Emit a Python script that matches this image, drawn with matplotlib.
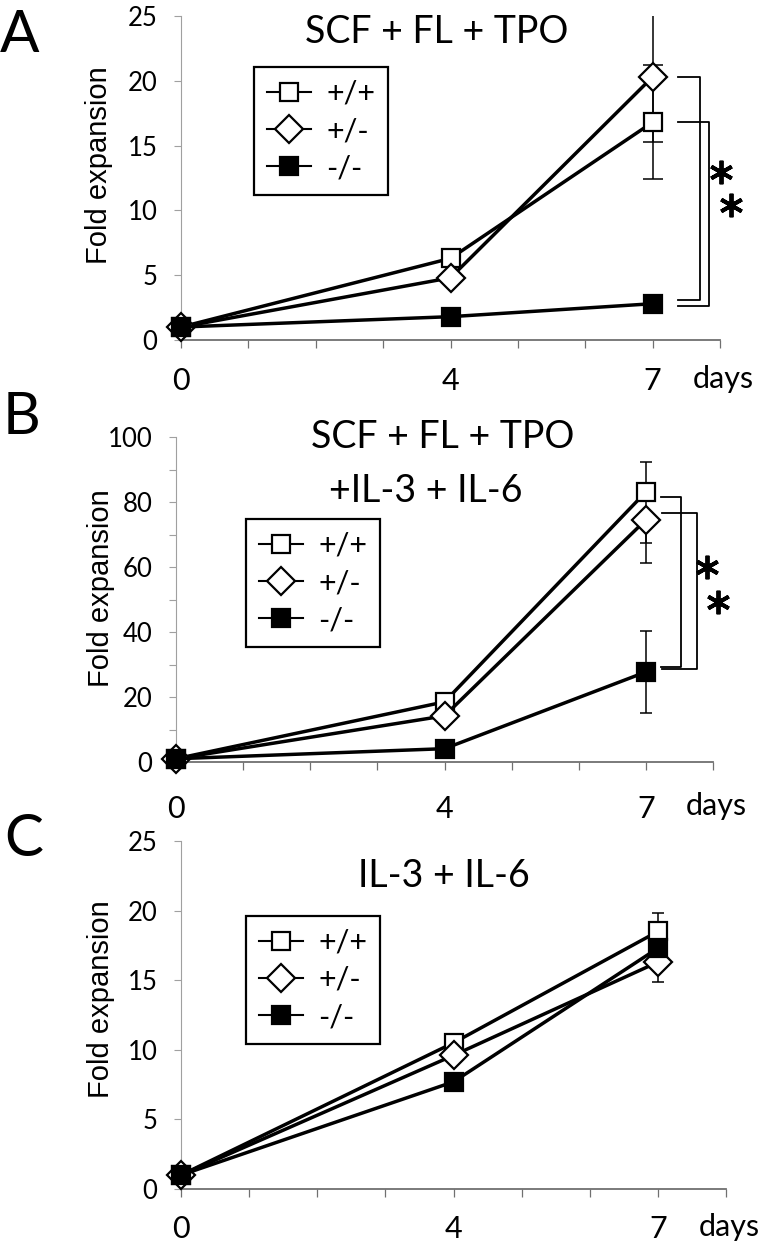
import numpy as np
import matplotlib
matplotlib.use('Agg')
import matplotlib.pyplot as plt
from matplotlib.lines import Line2D

plt.rcParams['font.family'] = ['Lato', 'DejaVu Sans']

# ---- data ----
days = [0, 4, 7]
genotypes = ['+/+', '+/-', '-/-']

# A: SCF + FL + TPO
a_wt = [1.0, 6.3, 16.8]
a_het = [1.0, 4.8, 20.3]
a_ko = [1.0, 1.8, 2.8]
a_wt_err = [0, 0, 4.4]
a_het_err = [0, 0, 5.0]
a_ko_err = [0, 0, 0]

# B: SCF + FL + TPO + IL-3 + IL-6
b_wt = [1.0, 18.5, 83.1]
b_het = [1.0, 14.2, 74.5]
b_ko = [1.0, 4.1, 27.7]
b_wt_err_lo = [0, 0, 15.7]
b_wt_err_hi = [0, 0, 9.2]
b_het_err_lo = [0, 0, 13.3]
b_het_err_hi = [0, 0, 0]
b_ko_err = [0, 0, 12.5]

# C: IL-3 + IL-6
c_wt = [1.0, 10.5, 18.5]
c_het = [1.0, 9.6, 16.3]
c_ko = [1.0, 7.7, 17.3]
c_wt_err = [0, 0.55, 1.3]
c_het_err = [0, 0, 1.4]
c_ko_err = [0, 0, 0.5]

W, H = 759, 1241
fig = plt.figure(figsize=(W / 100, H / 100), dpi=100)


def fpos(left, right, top, bottom):
    return [left / W, 1 - bottom / H, (right - left) / W, (bottom - top) / H]


styles = [dict(marker='s', mfc='white', ms=13),
          dict(marker='D', mfc='white', ms=14.5),
          dict(marker='s', mfc='black', ms=13)]


def panel(rect, series, errs, ymax, ystep, ylab_step, capsize, tickpad):
    ax = fig.add_axes(rect)
    for (y, e) in zip(series, errs):
        ax.errorbar(days, y, yerr=e, fmt='none', ecolor='black', elinewidth=1.1,
                    capsize=capsize, capthick=1.1, zorder=2)
    for i, (y, st) in enumerate(zip(series, styles)):
        ax.plot(days, y, color='black', lw=2.5, mec='black', mew=1.6,
                zorder=3 + i, clip_on=False, **st)
    ax.set_xlim(0, 8)
    ax.set_ylim(0, ymax)
    for s in ['top', 'right']:
        ax.spines[s].set_visible(False)
    ax.spines['left'].set_color('#a0a0a0')
    ax.spines['left'].set_linewidth(0.8)
    ax.spines['bottom'].set_color('#707070')
    ax.spines['bottom'].set_linewidth(1.3)
    ax.set_xticks(days)
    ax.set_xticklabels([str(d) for d in days], fontsize=22)
    ax.set_xticks([1, 2, 3, 5, 6, 8], minor=True)
    ax.tick_params(axis='x', which='both', direction='out', length=6,
                   color='#707070', width=0.9, pad=tickpad)
    ax.set_yticks(np.arange(0, ymax + 0.1, ylab_step))
    ax.set_yticklabels(['%d' % v for v in np.arange(0, ymax + 0.1, ylab_step)], fontsize=18.5)
    ax.set_yticks(np.arange(0, ymax + 0.1, ystep), minor=True)
    ax.tick_params(axis='y', which='both', direction='out', length=5,
                   color='#a0a0a0', width=0.8, pad=12)
    ax.annotate('days', xy=(8.05, 0), xycoords=('data', 'axes fraction'),
                xytext=(0, -(6 * 0.72 + tickpad)), textcoords='offset points',
                ha='center', va='top', fontsize=22)
    return ax


def legend(ax, x, y):
    handles = [Line2D([], [], color='black', lw=1.5, mec='black', mew=1.6, **st)
               for st in styles]
    leg = ax.legend(handles, genotypes, loc='upper left',
                    bbox_to_anchor=(x / W, 1 - y / H), bbox_transform=fig.transFigure,
                    fontsize=22, frameon=True, fancybox=False, framealpha=1,
                    edgecolor='black', handlelength=1.45, handletextpad=0.5,
                    labelspacing=0.3, borderpad=0.42, borderaxespad=0)
    leg.get_frame().set_linewidth(1.6)


def bracket(ax, x0, x1, ytop, ybot):
    ax.plot([x0, x1, x1, x0], [ytop, ytop, ybot, ybot], color='black', lw=1.3,
            clip_on=False, zorder=6)


def stars(ax, pts):
    for (x, y) in pts:
        ax.plot(x, y, marker=(6, 2, 0), ms=17, mew=2.8, color='black',
                clip_on=False, zorder=6)


# ---- A ----
axA = panel(fpos(181, 720, 16, 340), [a_wt, a_het, a_ko],
            [a_wt_err, a_het_err, a_ko_err], 25, 5, 5, 7, 13.5)
legend(axA, 254, 67)
bracket(axA, 7.38, 7.70, a_het[2], 3.07)
bracket(axA, 7.38, 7.83, a_wt[2], 2.6)
stars(axA, [(8.02, 13.0), (8.16, 10.4)])
fig.text(437 / W, 1 - 32 / H, 'SCF + FL + TPO', ha='center', va='center', fontsize=27)
fig.text(20 / W, 1 - 35 / H, 'A', ha='center', va='center', fontsize=42)
fig.text(99 / W, 1 - 165 / H, 'Fold expansion', rotation=90, ha='center', va='center',
         fontsize=21, family='Liberation Sans')

# ---- B ----
axB = panel(fpos(176, 713, 437, 762), [b_wt, b_het, b_ko],
            [[b_wt_err_lo, b_wt_err_hi], [b_het_err_lo, b_het_err_hi], b_ko_err],
            100, 10, 20, 4.5, 17.5)
legend(axB, 246, 519)
bracket(axB, 7.22, 7.53, 81.5, 29.2)
bracket(axB, 7.24, 7.76, 76.6, 28.6)
stars(axB, [(7.91, 60), (8.08, 49.2)])
fig.text(443 / W, 1 - 437 / H, 'SCF + FL + TPO', ha='center', va='center', fontsize=27)
fig.text(426 / W, 1 - 491 / H, '+IL-3 + IL-6', ha='center', va='center', fontsize=27)
fig.text(22 / W, 1 - 418 / H, 'B', ha='center', va='center', fontsize=42)
fig.text(101 / W, 1 - 588 / H, 'Fold expansion', rotation=90, ha='center', va='center',
         fontsize=21, family='Liberation Sans')

# ---- C ----
axC = panel(fpos(181, 726, 841, 1189), [c_wt, c_het, c_ko],
            [c_wt_err, c_het_err, c_ko_err], 25, 5, 5, 4, 13)
legend(axC, 246, 916)
fig.text(444 / W, 1 - 876 / H, 'IL-3 + IL-6', ha='center', va='center', fontsize=27)
fig.text(24 / W, 1 - 840 / H, 'C', ha='center', va='center', fontsize=42)
fig.text(101 / W, 1 - 999 / H, 'Fold expansion', rotation=90, ha='center', va='center',
         fontsize=21, family='Liberation Sans')

fig.savefig('out.png', dpi=100)
